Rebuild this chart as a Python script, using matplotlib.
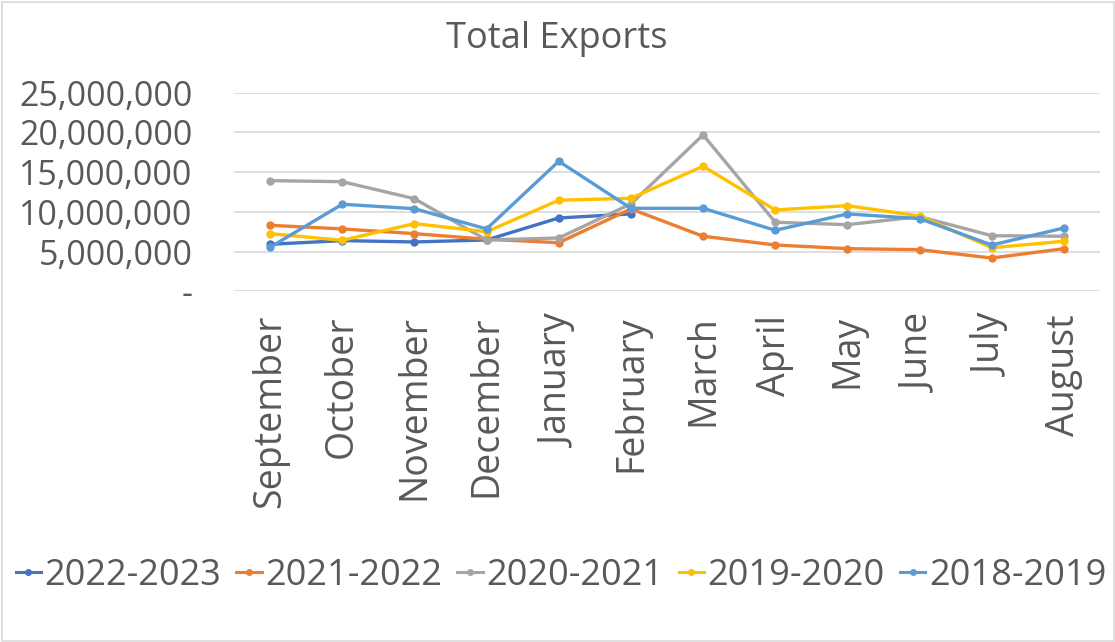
import matplotlib
matplotlib.use("Agg")
import matplotlib.pyplot as plt
from matplotlib.ticker import FuncFormatter, MultipleLocator
from matplotlib.patches import Rectangle

plt.rcParams['font.family'] = ['Open Sans', 'DejaVu Sans']

months = ["September", "October", "November", "December", "January", "February",
          "March", "April", "May", "June", "July", "August"]

s_2022_2023 = [5.92e6, 6.38e6, 6.21e6, 6.46e6, 9.23e6, 9.74e6]
s_2021_2022 = [8.31e6, 7.85e6, 7.26e6, 6.55e6, 6.12e6, 10.37e6, 6.93e6, 5.83e6, 5.37e6, 5.24e6, 4.19e6, 5.37e6]
s_2020_2021 = [13.93e6, 13.80e6, 11.66e6, 6.46e6, 6.71e6, 11.0e6, 19.69e6, 8.69e6, 8.39e6, 9.40e6, 7.00e6, 6.93e6]
s_2019_2020 = [7.26e6, 6.42e6, 8.52e6, 7.50e6, 11.46e6, 11.71e6, 15.74e6, 10.24e6, 10.78e6, 9.48e6, 5.49e6, 6.30e6]
s_2018_2019 = [5.54e6, 10.96e6, 10.40e6, 7.85e6, 16.37e6, 10.45e6, 10.45e6, 7.68e6, 9.74e6, 9.15e6, 5.83e6, 7.97e6]

series = [
    ("2022-2023", s_2022_2023, "#4472C4"),
    ("2021-2022", s_2021_2022, "#ED7D31"),
    ("2020-2021", s_2020_2021, "#A5A5A5"),
    ("2019-2020", s_2019_2020, "#FFC000"),
    ("2018-2019", s_2018_2019, "#5B9BD5"),
]

text_color = "#595959"
fig = plt.figure(figsize=(11.15, 6.42), dpi=100)
ax = fig.add_axes([234 / 1115, (642 - 291.3) / 642, (1100 - 234) / 1115, (291.3 - 92.7) / 642])

x = list(range(len(months)))
for name, vals, col in series:
    ax.plot(x[:len(vals)], vals, color=col, lw=2.4, marker='o', ms=5, label=name, zorder=3)

ax.set_xlim(-0.5, len(months) - 0.5)
ax.set_ylim(0, 25e6)
ax.yaxis.set_major_locator(MultipleLocator(5e6))
ax.yaxis.set_major_formatter(FuncFormatter(lambda v, p: "-" if v == 0 else f"{v:,.0f}"))
ax.set_xticks(x)
ax.set_xticklabels(months, rotation=90, va='top', ha='center')
ax.tick_params(axis='y', length=0, pad=30, labelsize=24.5, labelcolor=text_color)
ax.tick_params(axis='x', length=0, pad=17, labelsize=27, labelcolor=text_color)
ax.grid(axis='y', color='#D9D9D9', lw=1.2, zorder=0)
for sp in ax.spines.values():
    sp.set_visible(False)

fig.text(0.4996, (642 - 39) / 642, "Total Exports", ha='center', va='center',
         fontsize=26, color=text_color)

leg = fig.legend(loc='center', bbox_to_anchor=(0.503, (642 - 576) / 642), ncol=5, frameon=False,
                 fontsize=26, handlelength=0.7, handletextpad=0.1, columnspacing=0.42,
                 labelcolor=text_color)
for h in leg.legend_handles:
    h.set_markersize(4)
    h.set_linewidth(2.2)

fig.patches.append(Rectangle((1.5 / 1115, 1.5 / 642), 1 - 3 / 1115, 1 - 3 / 642,
                             transform=fig.transFigure, fill=False, edgecolor='#D9D9D9', lw=1.2))

fig.savefig("out.png", dpi=100)
